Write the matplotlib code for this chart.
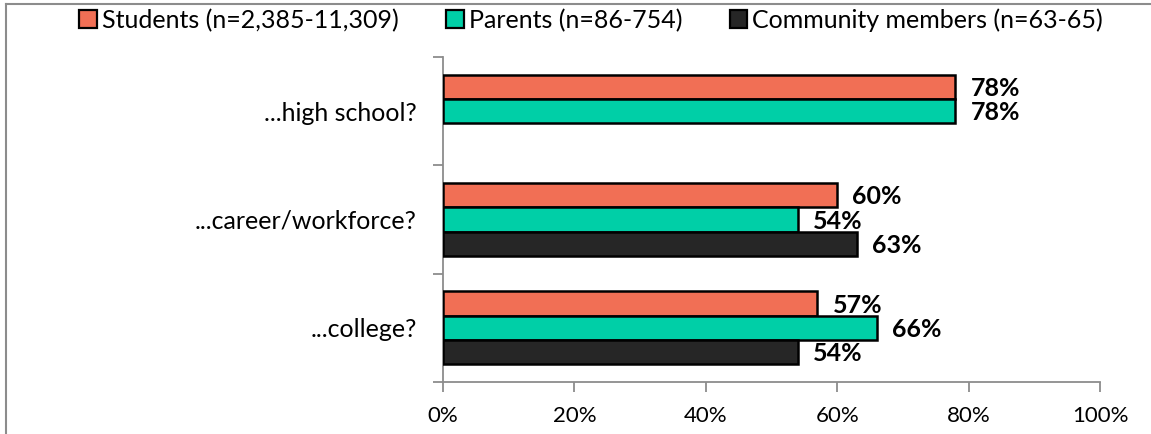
import numpy as np
import matplotlib
matplotlib.use("Agg")
import matplotlib.pyplot as plt
from matplotlib.patches import Patch
from matplotlib.lines import Line2D

plt.rcParams['font.family'] = ['Lato', 'DejaVu Sans']

categories = ["...high school?", "...career/workforce?", "...college?"]
series_names = ["Students (n=2,385-11,309)", "Parents (n=86-754)", "Community members (n=63-65)"]
students = [78, 60, 57]
parents = [78, 54, 66]
community = [np.nan, 63, 54]
colors = ["#F16F55", "#00CFA7", "#262626"]
xticks = [0, 20, 40, 60, 80, 100]
xtick_labels = ["0%", "20%", "40%", "60%", "80%", "100%"]

fig = plt.figure(figsize=(11.51, 4.34), dpi=100)
ax = fig.add_axes([443/1151, 1-382/434, (1100-443)/1151, (382-57)/434])

n_cat = len(categories)
ypos = np.arange(n_cat)
h = 0.225
all_series = [students, parents, community]
for i, (vals, col) in enumerate(zip(all_series, colors)):
    offs = (i - 1) * h
    v = np.array(vals, dtype=float)
    mask = ~np.isnan(v)
    ax.barh(ypos[mask] + offs, v[mask], height=h, color=col, edgecolor="black",
            linewidth=1.8, zorder=3)
    for y, val in zip(ypos[mask] + offs, v[mask]):
        ax.text(val + 2.3, y + 0.015, f"{val:.0f}%", va="center", ha="left",
                fontsize=18, fontweight="bold", color="black")

ax.set_xlim(0, 100)
ax.set_ylim(n_cat - 0.5, -0.5)
ax.set_xticks(xticks)
ax.set_xticklabels(xtick_labels, fontsize=16)
ax.tick_params(axis="x", length=7, color="#8c8c8c", width=1.3, pad=10)

ax.set_yticks(np.arange(-0.5, n_cat, 1.0))
ax.set_yticklabels([])
ax.tick_params(axis="y", which="major", length=7, color="#8c8c8c", width=1.3)
ax.set_yticks(ypos, minor=True)
ax.set_yticklabels(categories, minor=True, fontsize=18)
ax.tick_params(axis="y", which="minor", length=0, pad=19)

for s in ["top", "right"]:
    ax.spines[s].set_visible(False)
for s in ["left", "bottom"]:
    ax.spines[s].set_color("#8c8c8c")
    ax.spines[s].set_linewidth(1.3)

handles = [Patch(facecolor=c, edgecolor="black", linewidth=1.6) for c in colors]
fig.legend(handles, series_names, loc="center", bbox_to_anchor=(591/1151, 1-20/434),
           ncol=3, frameon=False, fontsize=18, handlelength=0.7, handleheight=0.7,
           handletextpad=0.2, columnspacing=1.9, borderpad=0)

# outer border
fig.add_artist(Line2D([6/1151, 1], [1-4/434, 1-4/434], color="#8c8c8c", lw=1.5,
                      transform=fig.transFigure))
fig.add_artist(Line2D([6/1151, 6/1151], [0, 1-4/434], color="#8c8c8c", lw=1.5,
                      transform=fig.transFigure))

fig.savefig("out.png", dpi=100)
